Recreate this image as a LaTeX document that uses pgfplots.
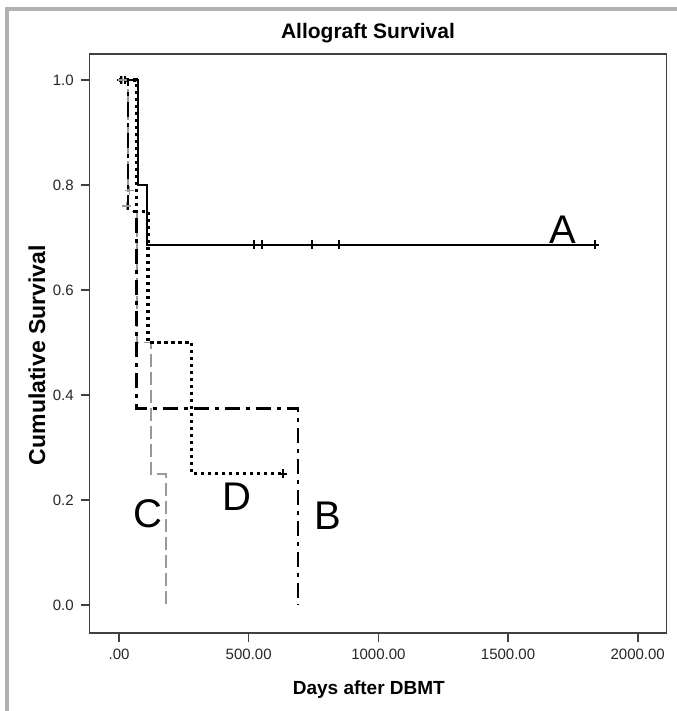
\documentclass[border=0pt]{standalone}
\usepackage{fontspec}
\setmainfont{Liberation Sans}
\usepackage{pgfplots}
\pgfplotsset{compat=1.18}

\begin{document}
\begin{tikzpicture}[x=1pt,y=1pt]
\useasboundingbox (-44.85,-39) rectangle (293.15,316.5);
% grey frame of the output window
\draw[gray!60, line width=1.6pt] (-41.35,-45) -- (-41.35,312) -- (300,312);
\begin{axis}[
  at={(0,0)}, anchor=south west,
  scale only axis, width=288.4pt, height=289.4pt,
  xmin=-113, xmax=2111, ymin=-0.053, ymax=1.049,
  axis line style={black!75, line width=0.8pt},
  xtick={0,500,1000,1500,2000},
  xticklabels={.00,500.00,1000.00,1500.00,2000.00},
  ytick={0,0.2,0.4,0.6,0.8,1.0},
  yticklabel style={/pgf/number format/.cd, fixed, fixed zerofill, precision=1},
  /pgf/number format/assume math mode=true,
  tick label style={font=\fontsize{7.5}{8}\selectfont, black!85},
  xtick pos=left, ytick pos=left, tick align=outside,
  major tick length=4.5pt,
  tick style={black!75, line width=0.8pt},
  xlabel={\textbf{Days after DBMT}},
  xlabel style={font=\fontsize{9.5}{11}\selectfont, at={(axis description cs:0.484,-0.0985)}, anchor=center},
  ylabel={\textbf{Cumulative Survival}},
  ylabel style={font=\fontsize{11.5}{13}\selectfont, at={(axis description cs:-0.0915,0.48)}, anchor=center},
  clip=false,
]
% C
\addplot[gray!80, line width=0.7pt, dash pattern=on 6.5pt off 2.5pt] coordinates
  {(0,1) (35,1) (35,0.75) (69,0.75) (69,0.5) (123,0.5) (123,0.25) (181,0.25) (181,0)};
% B
\addplot[black, line width=1.4pt, dash pattern=on 7.5pt off 3pt on 2pt off 3pt] coordinates
  {(0,1) (35,1) (35,0.75) (66,0.75) (66,0.375) (690,0.375) (690,0)};
% D
\addplot[black, line width=1.6pt, dash pattern=on 1.6pt off 1.9pt] coordinates
  {(0,1) (66,1) (66,0.75) (112,0.75) (112,0.5) (281,0.5) (281,0.25) (632,0.25)};
% A
\addplot[black, line width=1.2pt] coordinates
  {(0,1) (73,1) (73,0.8) (108,0.8) (108,0.686) (1835,0.686)};
% censored
\addplot[only marks, mark=|, mark size=2.2pt, black, mark options={line width=0.8pt}] coordinates
  {(520,0.686) (551,0.686) (744,0.686) (848,0.686)};
\addplot[only marks, mark=+, mark size=2.2pt, black, mark options={line width=0.8pt}] coordinates
  {(1835,0.686) (632,0.25) (8,1) (22,1)};
\addplot[only marks, mark=+, mark size=2.2pt, gray!80, mark options={line width=0.6pt}] coordinates
  {(15,1) (30,0.76) (40,0.79)};
\node[font=\fontsize{10.5}{12}\selectfont\bfseries] at (axis description cs:0.4825,1.036) {Allograft Survival};
\node[font=\fontsize{20}{22}\selectfont] at (axis cs:1712,0.714) {A};
\node[font=\fontsize{20}{22}\selectfont] at (axis cs:806,0.171) {B};
\node[font=\fontsize{20}{22}\selectfont] at (axis cs:112,0.175) {C};
\node[font=\fontsize{20}{22}\selectfont] at (axis cs:455,0.206) {D};
\end{axis}
\end{tikzpicture}
\end{document}
